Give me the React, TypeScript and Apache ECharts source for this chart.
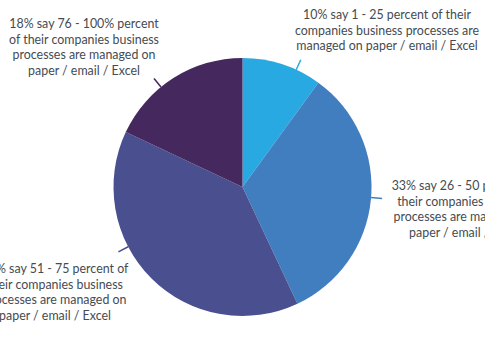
import React, { useEffect, useRef } from "react";
import * as echarts from "echarts";

const categories = ["1 - 25", "26 - 50", "51 - 75", "76 - 100%"];
const values = [10, 33, 39, 18];
const labelTexts = [
  "10% say 1 - 25 percent of their\ncompanies business processes are\nmanaged on paper / email / Excel",
  "33% say 26 - 50 percent of\ntheir companies business\nprocesses are managed on\npaper / email / Excel",
  "39% say 51 - 75 percent of\ntheir companies business\nprocesses are managed on\npaper / email / Excel",
  "18% say 76 - 100% percent\nof their companies business\nprocesses are managed on\npaper / email / Excel",
];
const colors = ["#29a9e1", "#417ec0", "#4a4f8f", "#45285e"];

// layout constants (not data)
const CENTER: [number, number] = [242.5, 187];
const RADIUS = 129;
const LABEL_POS: [number, number][] = [
  [387, 30],
  [465, 209],
  [55, 292],
  [84, 47],
];
// direction (degrees clockwise from 12 o'clock) of each short leader line
const LINE_ANGLES = [24.6, 94.7, 242.4, 320.8];
const LINE_LEN = 11;

function leader(i: number): number[][] {
  const a = (LINE_ANGLES[i] * Math.PI) / 180;
  const r1 = RADIUS;
  const r2 = RADIUS + LINE_LEN;
  return [
    [CENTER[0] + r1 * Math.sin(a), CENTER[1] - r1 * Math.cos(a)],
    [CENTER[0] + r2 * Math.sin(a), CENTER[1] - r2 * Math.cos(a)],
  ];
}

export default function App() {
  const ref = useRef<HTMLDivElement>(null);
  useEffect(() => {
    if (!ref.current) return;
    const chart = echarts.init(ref.current, undefined, { renderer: "svg" });
    chart.setOption({
      animation: false,
      backgroundColor: "#ffffff",
      series: [
        {
          type: "pie",
          center: CENTER,
          radius: RADIUS,
          startAngle: 90,
          clockwise: true,
          avoidLabelOverlap: false,
          itemStyle: { borderWidth: 0 },
          label: {
            show: true,
            position: "outside",
            formatter: (p: any) => labelTexts[p.dataIndex],
            fontFamily: "Lato",
            fontSize: 12.4,
            lineHeight: 15.8,
            color: "#454b52",
            width: 200,
            overflow: "none",
          },
          labelLine: {
            show: true,
            length: 10,
            length2: 0,
            lineStyle: { width: 1.5 },
          },
          labelLayout: (params: any) => {
            const p = LABEL_POS[params.dataIndex];
            return {
              x: p[0],
              y: p[1],
              align: "center",
              verticalAlign: "middle",
              labelLinePoints: leader(params.dataIndex),
            };
          },
          emphasis: { disabled: true },
          data: categories.map((c, i) => ({
            name: c,
            value: values[i],
            itemStyle: { color: colors[i] },
          })),
        },
      ],
    });
    return () => chart.dispose();
  }, []);
  return (
    <div
      ref={ref}
      style={{ position: "fixed", left: 0, top: 0, width: 485, height: 360 }}
    />
  );
}
